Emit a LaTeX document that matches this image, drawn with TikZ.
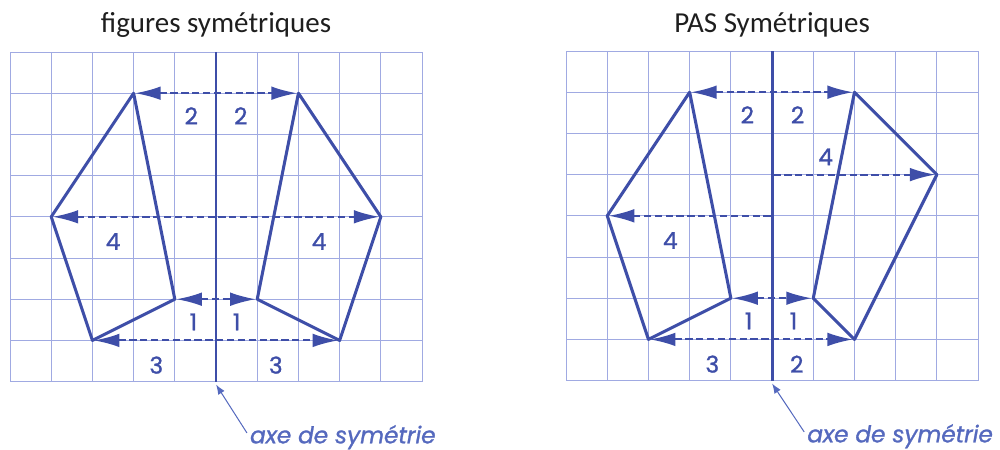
\documentclass[tikz,border=0pt]{standalone}
\usepackage{fontspec}
\setmainfont{Carlito}
\newfontfamily\geo[FakeBold=1.2]{Poppins}
\usetikzlibrary{arrows.meta}
\definecolor{ink}{RGB}{30,30,30}
\definecolor{figblue}{RGB}{62,78,168}
\definecolor{gridc}{RGB}{160,170,226}
\definecolor{note}{RGB}{85,105,190}

\tikzset{
  gridline/.style={gridc, line width=0.7pt},
  axisline/.style={figblue, line width=2pt},
  outline/.style={figblue, line width=2.1pt, line join=round},
  dasharrow/.style={figblue, line width=1.4pt, dash pattern=on 5pt off 2.5pt, shorten <=1pt, shorten >=1pt},
  num/.style={font=\geo\fontsize{16}{18}\selectfont, text=figblue, inner sep=0pt},
  title/.style={font=\fontsize{20}{24}\selectfont, text=ink},
  axelabel/.style={font=\geo\itshape\fontsize{16}{18}\selectfont, text=note, anchor=west, inner sep=0pt},
  pointer/.style={note, line width=0.7pt, -{Latex[length=2.4mm,width=1.8mm]}},
  >={Latex[length=6.2mm,width=3.3mm]}
}

\begin{document}
\begin{tikzpicture}
\useasboundingbox (0,0) rectangle (24.27,-10.92);

% ═══════════════════════════════════════════
% PANEL 1: figures symétriques
% ═══════════════════════════════════════════
\begin{scope}[shift={(0.243,-1.262)}]
  \node[title] (stitle) at (5, 0.66) {figures symétriques};
  \draw[gridline] (0,0) grid (10,-8);
  \coordinate (stop) at (5,0);
  \coordinate (sbot) at (5,-8);
  \draw[axisline] (stop) -- (sbot);

  % ── vertices ──
  \coordinate (sA) at (3,-1);  \coordinate (sB) at (1,-4);
  \coordinate (sC) at (2,-7);  \coordinate (sD) at (4,-6);
  \coordinate (sA') at (7,-1); \coordinate (sB') at (9,-4);
  \coordinate (sC') at (8,-7); \coordinate (sD') at (6,-6);

  \draw[dasharrow, <->] (sA) -- (sA');
  \draw[dasharrow, <->] (sB) -- (sB');
  \draw[dasharrow, <->] (sD) -- (sD');
  \draw[dasharrow, <->] (sC) -- (sC');

  \draw[outline] (sA) -- (sB) -- (sC) -- (sD) -- cycle;
  \draw[outline] (sA') -- (sB') -- (sC') -- (sD') -- cycle;

  \node[num] (s2l) at (4.4,-1.55) {2};
  \node[num] (s2r) at (5.6,-1.55) {2};
  \node[num] (s4l) at (2.5,-4.6) {4};
  \node[num] (s4r) at (7.5,-4.6) {4};
  \node[num] (s1l) at (4.45,-6.55) {1};
  \node[num] (s1r) at (5.5,-6.55) {1};
  \node[num] (s3l) at (3.55,-7.6) {3};
  \node[num] (s3r) at (6.45,-7.6) {3};

  \node[axelabel] (saxe) at (0.82+5,-9.35) {axe de symétrie};
  \draw[pointer] ([xshift=-2pt,yshift=3pt]saxe.west) -- ([yshift=-2pt]sbot);
\end{scope}

% ═══════════════════════════════════════════
% PANEL 2: PAS Symétriques
% ═══════════════════════════════════════════
\begin{scope}[shift={(13.738,-1.238)}]
  \node[title] (ptitle) at (5, 0.64) {PAS Symétriques};
  \draw[gridline] (0,0) grid (10,-8);
  \coordinate (ptop) at (5,0);
  \coordinate (pbot) at (5,-8);
  \draw[axisline] (ptop) -- (pbot);

  % ── vertices ──
  \coordinate (pA) at (3,-1);  \coordinate (pB) at (1,-4);
  \coordinate (pC) at (2,-7);  \coordinate (pD) at (4,-6);
  \coordinate (pA') at (7,-1); \coordinate (pB') at (9,-3);
  \coordinate (pC') at (7,-7); \coordinate (pD') at (6,-6);
  \coordinate (pax3) at (5,-3); \coordinate (pax4) at (5,-4);

  \draw[dasharrow, <->] (pA) -- (pA');
  \draw[dasharrow, ->] (pax3) -- (pB');
  \draw[dasharrow, ->] (pax4) -- (pB);
  \draw[dasharrow, <->] (pD) -- (pD');
  \draw[dasharrow, <->] (pC) -- (pC');

  \draw[outline] (pA) -- (pB) -- (pC) -- (pD) -- cycle;
  \draw[outline] (pA') -- (pB') -- (pC') -- (pD') -- cycle;

  \node[num] (p2l) at (4.4,-1.55) {2};
  \node[num] (p2r) at (5.62,-1.55) {2};
  \node[num] (p4r) at (6.3,-2.57) {4};
  \node[num] (p4l) at (2.53,-4.6) {4};
  \node[num] (p1l) at (4.43,-6.55) {1};
  \node[num] (p1r) at (5.52,-6.55) {1};
  \node[num] (p3l) at (3.55,-7.6) {3};
  \node[num] (p2b) at (5.6,-7.6) {2};

  \node[axelabel] (paxe) at (0.85+5,-9.35) {axe de symétrie};
  \draw[pointer] ([xshift=-2pt,yshift=3pt]paxe.west) -- ([yshift=-2pt]pbot);
\end{scope}

\end{tikzpicture}
\end{document}
